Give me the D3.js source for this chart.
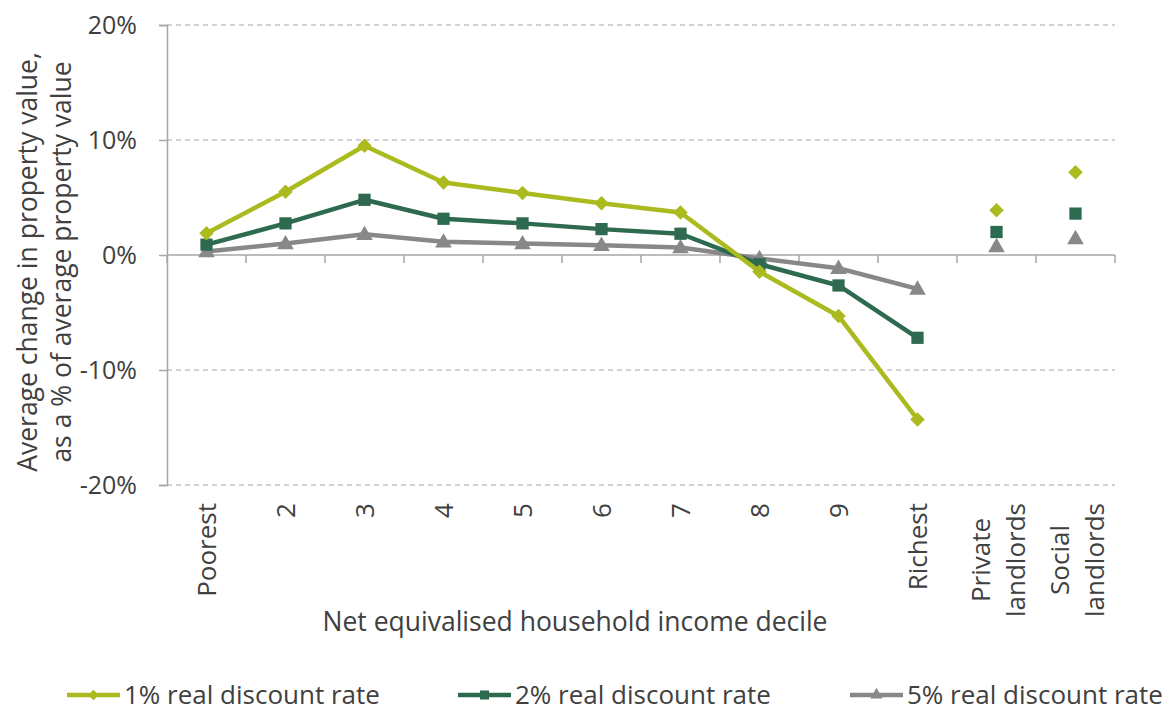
<!DOCTYPE html>
<html>
<head>
<meta charset="utf-8">
<script src="https://cdn.jsdelivr.net/npm/d3@7"></script>
<style>
  html, body { margin: 0; padding: 0; background: #ffffff; }
  svg { display: block; font-family: "Open Sans", sans-serif; }
</style>
</head>
<body>
<svg id="chart" width="1169" height="711"></svg>
<script>
// ---- data ----
const categories = ["Poorest", "2", "3", "4", "5", "6", "7", "8", "9", "Richest", "Private\nlandlords", "Social\nlandlords"];
const rate1 = [1.9, 5.5, 9.5, 6.3, 5.4, 4.5, 3.7, -1.45, -5.3, -14.3, 3.9, 7.2];
const rate2 = [0.9, 2.75, 4.8, 3.15, 2.75, 2.25, 1.85, -0.8, -2.65, -7.2, 2.0, 3.6];
const rate5 = [0.3, 1.0, 1.8, 1.15, 1.0, 0.85, 0.65, -0.3, -1.15, -2.95, 0.75, 1.45];
const seriesNames = ["1% real discount rate", "2% real discount rate", "5% real discount rate"];
const yTicks = [-20, -10, 0, 10, 20];
const decileCount = 10; // first 10 categories are joined by lines

(function () {
// ---- layout ----
const svg = d3.select("#chart");
const pLeft = 167, pRight = 1115, pTop = 25, pBottom = 485;
const x = d3.scaleBand().domain(categories).range([pLeft, pRight]).padding(0);
const y = d3.scaleLinear().domain([-20, 20]).range([pBottom, pTop]);
const axisColor = "#a6a6a6";
const textColor = "#404040";

const series = [
  { name: seriesNames[0], values: rate1, color: "#abbb1f", symbol: "diamond" },
  { name: seriesNames[1], values: rate2, color: "#2e6a4f", symbol: "square" },
  { name: seriesNames[2], values: rate5, color: "#888888", symbol: "triangle" }
];

// gridlines (dashed, excluding zero)
svg.append("g").selectAll("line").data(yTicks.filter(d => d !== 0)).join("line")
  .attr("x1", pLeft).attr("x2", pRight)
  .attr("y1", d => y(d)).attr("y2", d => y(d))
  .attr("stroke", "#a6a6a6").attr("stroke-width", 1.2)
  .attr("stroke-dasharray", "5,4");

// y axis
const yAxis = d3.axisLeft(y).tickValues(yTicks).tickSize(8).tickPadding(22)
  .tickFormat(d => d + "%");
const gy = svg.append("g").attr("transform", `translate(${pLeft},0)`).call(yAxis);
gy.select(".domain").attr("stroke", axisColor).attr("stroke-width", 1.5);
gy.selectAll(".tick line").attr("stroke", axisColor).attr("stroke-width", 1.5);
gy.selectAll(".tick text").attr("fill", textColor)
  .style("font-size", "25px").style("font-family", "'Open Sans', sans-serif");

// x axis at zero (ticks at category boundaries)
const boundaries = d3.range(categories.length + 1).map(i => pLeft + i * x.bandwidth());
const gx = svg.append("g");
gx.append("line").attr("x1", pLeft).attr("x2", pRight)
  .attr("y1", y(0)).attr("y2", y(0))
  .attr("stroke", axisColor).attr("stroke-width", 1.5);
gx.selectAll("line.tk").data(boundaries).join("line").attr("class", "tk")
  .attr("x1", d => d).attr("x2", d => d)
  .attr("y1", y(0)).attr("y2", y(0) + 8)
  .attr("stroke", axisColor).attr("stroke-width", 1.5);

// x category labels (rotated)
const labelG = svg.append("g");
categories.forEach(c => {
  const lines = c.split("\n");
  const cx = x(c) + x.bandwidth() / 2;
  const g = labelG.append("g").attr("transform", `translate(${cx},503) rotate(-90)`);
  const t = g.append("text").attr("fill", textColor).style("font-size", "26px");
  if (lines.length === 1) {
    t.attr("text-anchor", "end").attr("x", 0).attr("y", 0).attr("dy", "0.36em").text(c);
  } else {
    const spacing = 35;
    const tmp = lines.map(l => t.append("tspan").text(l));
    const lens = tmp.map(ts => ts.node().getComputedTextLength());
    const maxLen = d3.max(lens);
    tmp.forEach((ts, i) => {
      ts.attr("text-anchor", "middle")
        .attr("x", -maxLen / 2)
        .attr("y", (i - (lines.length - 1) / 2) * spacing + 2)
        .attr("dy", "0.36em");
    });
  }
});

// y axis title
svg.append("text")
  .attr("transform", `translate(0,262) rotate(-90)`)
  .attr("text-anchor", "middle").attr("fill", textColor).style("font-size", "26.5px")
  .selectAll("tspan").data(["Average change in property value,", "as a % of average property value"]).join("tspan")
  .attr("x", 0).attr("y", (d, i) => 37 + i * 34).text(d => d);

// x axis title
svg.append("text").attr("x", 575).attr("y", 631).attr("text-anchor", "middle")
  .attr("fill", textColor).style("font-size", "26.5px")
  .text("Net equivalised household income decile");

// symbol generators
function symbolPath(kind, scale) {
  if (kind === "diamond") return d3.symbol().type(d3.symbolSquare).size(105 * scale)();
  if (kind === "square") return d3.symbol().type(d3.symbolSquare).size(150 * scale)();
  return d3.symbol().type(d3.symbolTriangle).size(120 * scale)();
}

// lines and markers
const lineGen = d3.line().x(d => x(d.c) + x.bandwidth() / 2).y(d => y(d.v));
series.slice().reverse().forEach(s => {
  const pts = categories.map((c, i) => ({ c, v: s.values[i], i }));
  svg.append("path").datum(pts.slice(0, decileCount))
    .attr("d", lineGen).attr("fill", "none")
    .attr("stroke", s.color).attr("stroke-width", 4.5).attr("stroke-linejoin", "round");
  svg.append("g").selectAll("path").data(pts).join("path")
    .attr("d", symbolPath(s.symbol, 1))
    .attr("fill", s.color)
    .attr("transform", d => {
      const px = x(d.c) + x.bandwidth() / 2, py = y(d.v);
      if (s.symbol === "diamond") return `translate(${px},${py}) rotate(45)`;
      if (s.symbol === "triangle") return `translate(${px},${py + 1})`;
      return `translate(${px},${py})`;
    });
});

// legend
const legendX = [67, 458, 850];
series.forEach((s, i) => {
  const g = svg.append("g").attr("transform", `translate(${legendX[i]},695)`);
  g.append("line").attr("x1", 0).attr("x2", 53).attr("y1", 0).attr("y2", 0)
    .attr("stroke", s.color).attr("stroke-width", 4.5);
  g.append("path").attr("d", symbolPath(s.symbol, 0.55)).attr("fill", s.color)
    .attr("transform", s.symbol === "diamond" ? "translate(26.5,0) rotate(45)" : "translate(26.5,0)");
  g.append("text").attr("x", 57).attr("y", 0).attr("dy", "0.33em")
    .attr("fill", textColor).style("font-size", "26px").text(s.name);
});
})();
</script>
</body>
</html>
